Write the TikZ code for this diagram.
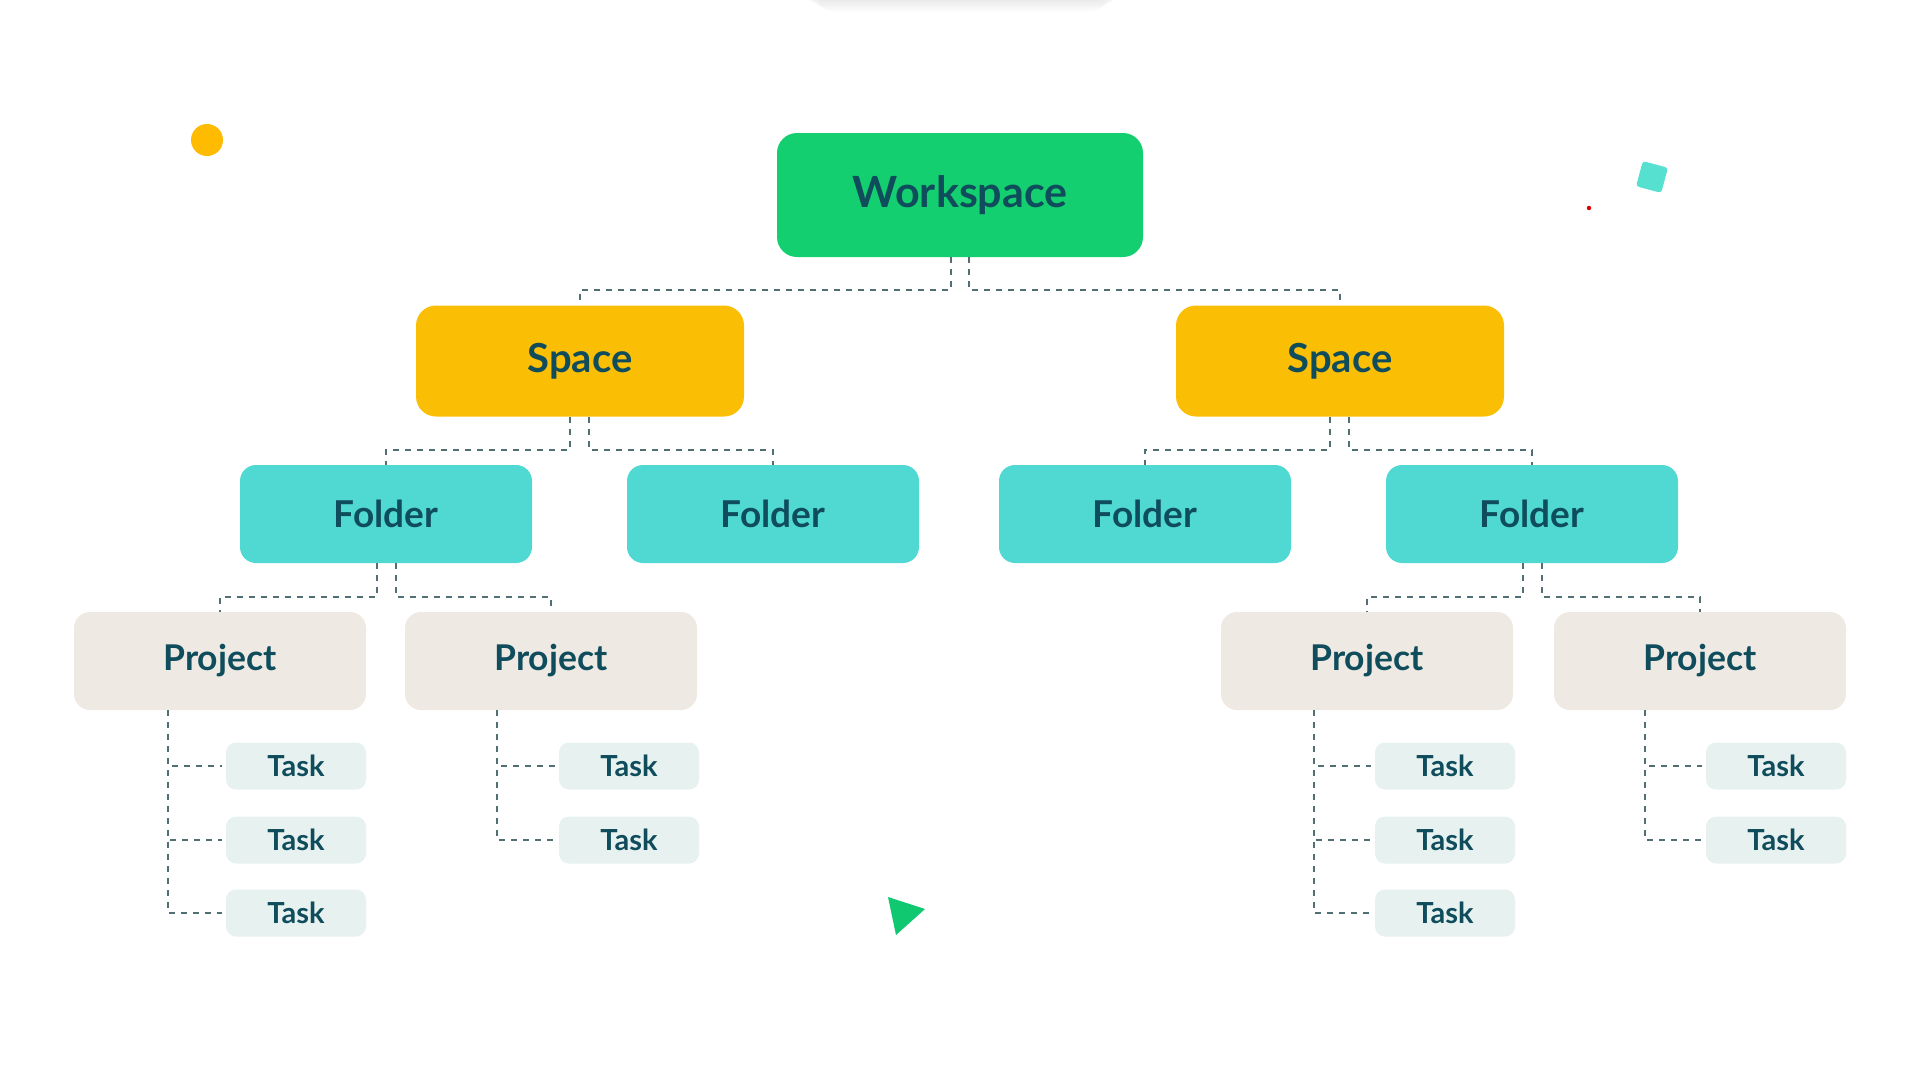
\documentclass[tikz,border=0pt]{standalone}
\usepackage{fontspec}
\setmainfont{Lato}
\usetikzlibrary{calc}
\definecolor{wsgreen}{RGB}{20,207,111}
\definecolor{spyellow}{RGB}{250,190,5}
\definecolor{foldteal}{RGB}{80,217,210}
\definecolor{projbeige}{RGB}{238,234,227}
\definecolor{taskbg}{RGB}{231,241,240}
\definecolor{textc}{RGB}{15,76,92}
\definecolor{dashc}{RGB}{80,112,116}
\definecolor{decoteal}{RGB}{85,224,208}
\definecolor{decoyellow}{RGB}{255,187,0}
\definecolor{decogreen}{RGB}{16,200,112}
\tikzset{
  box/.style={rectangle, inner sep=0pt, text=textc, font=\bfseries},
  wsbox/.style={box, fill=wsgreen, rounded corners=20pt, minimum width=366pt, minimum height=124pt, font=\bfseries\fontsize{43}{48}\selectfont},
  spbox/.style={box, fill=spyellow, rounded corners=20pt, minimum width=328pt, minimum height=111pt, font=\bfseries\fontsize{40}{46}\selectfont},
  fdbox/.style={box, fill=foldteal, rounded corners=16pt, minimum width=292pt, minimum height=98pt, font=\bfseries\fontsize{37}{42}\selectfont},
  pjbox/.style={box, fill=projbeige, rounded corners=16pt, minimum width=292pt, minimum height=98pt, font=\bfseries\fontsize{35.5}{40}\selectfont},
  tkbox/.style={box, fill=taskbg, rounded corners=10pt, minimum width=140pt, minimum height=47pt, font=\bfseries\fontsize{29}{33}\selectfont},
  conn/.style={draw=dashc, line width=1.7pt, dash pattern=on 6pt off 6pt},
}
\begin{document}
\begin{tikzpicture}[x=1pt,y=-1pt]
\useasboundingbox (0,0) rectangle (1920,1080);
\fill[white] (0,0) rectangle (1920,1080);
% faint top shadow (soft, layered)
\foreach \i in {0,...,9} {
  \fill[black, opacity=0.006, rounded corners=12pt] (820-\i*2,-40) rectangle (1103+\i*2,12-\i*1.2);
}
% decorations
\fill[decoyellow] (207,140) circle (16);
\fill[red!85!black] (1589,208) circle (2.2);
\node[rectangle, fill=decoteal, rounded corners=3pt, minimum size=26pt, rotate=-15] (sq) at (1652,177) {};
\fill[decogreen] (888,897) -- (925,909) -- (896,935) -- cycle;
% nodes
\node[wsbox] (ws) at (960,195) {Workspace};
\node[spbox] (sp1) at (580,361) {Space};
\node[spbox] (sp2) at (1340,361) {Space};
\node[fdbox] (f1) at (386,514) {Folder};
\node[fdbox] (f2) at (773,514) {Folder};
\node[fdbox] (f3) at (1145,514) {Folder};
\node[fdbox] (f4) at (1532,514) {Folder};
\node[pjbox] (p1) at (220,661) {Project};
\node[pjbox] (p2) at (551,661) {Project};
\node[pjbox] (p3) at (1367,661) {Project};
\node[pjbox] (p4) at (1700,661) {Project};
% tasks
\node[tkbox] (t11) at (296,766) {Task};
\node[tkbox] (t12) at (296,840) {Task};
\node[tkbox] (t13) at (296,913) {Task};
\node[tkbox] (t21) at (629,766) {Task};
\node[tkbox] (t22) at (629,840) {Task};
\node[tkbox] (t31) at (1445,766) {Task};
\node[tkbox] (t32) at (1445,840) {Task};
\node[tkbox] (t33) at (1445,913) {Task};
\node[tkbox] (t41) at (1776,766) {Task};
\node[tkbox] (t42) at (1776,840) {Task};
% connectors
\draw[conn] ([xshift=-9pt]ws.south) -- ++(0,33) -| (sp1.north);
\draw[conn] ([xshift=9pt]ws.south) -- ++(0,33) -| (sp2.north);
\draw[conn] ([xshift=-10pt]sp1.south) -- ++(0,33) -| (f1.north);
\draw[conn] ([xshift=9pt]sp1.south) -- ++(0,33) -| (f2.north);
\draw[conn] ([xshift=-10pt]sp2.south) -- ++(0,33) -| (f3.north);
\draw[conn] ([xshift=9pt]sp2.south) -- ++(0,33) -| (f4.north);
\draw[conn] ([xshift=-9pt]f1.south) -- ++(0,34) -| (p1.north);
\draw[conn] ([xshift=10pt]f1.south) -- ++(0,34) -| (p2.north);
\draw[conn] ([xshift=-9pt]f4.south) -- ++(0,34) -| (p3.north);
\draw[conn] ([xshift=10pt]f4.south) -- ++(0,34) -| (p4.north);
\draw[conn] ([xshift=94pt]p1.south west) |- ([xshift=-4pt]t11.west);
\draw[conn] ([xshift=94pt]p1.south west) |- ([xshift=-4pt]t12.west);
\draw[conn] ([xshift=94pt]p1.south west) |- ([xshift=-4pt]t13.west);
\draw[conn] ([xshift=92pt]p2.south west) |- ([xshift=-4pt]t21.west);
\draw[conn] ([xshift=92pt]p2.south west) |- ([xshift=-4pt]t22.west);
\draw[conn] ([xshift=93pt]p3.south west) |- ([xshift=-4pt]t31.west);
\draw[conn] ([xshift=93pt]p3.south west) |- ([xshift=-4pt]t32.west);
\draw[conn] ([xshift=93pt]p3.south west) |- ([xshift=-4pt]t33.west);
\draw[conn] ([xshift=91pt]p4.south west) |- ([xshift=-4pt]t41.west);
\draw[conn] ([xshift=91pt]p4.south west) |- ([xshift=-4pt]t42.west);
\end{tikzpicture}
\end{document}
